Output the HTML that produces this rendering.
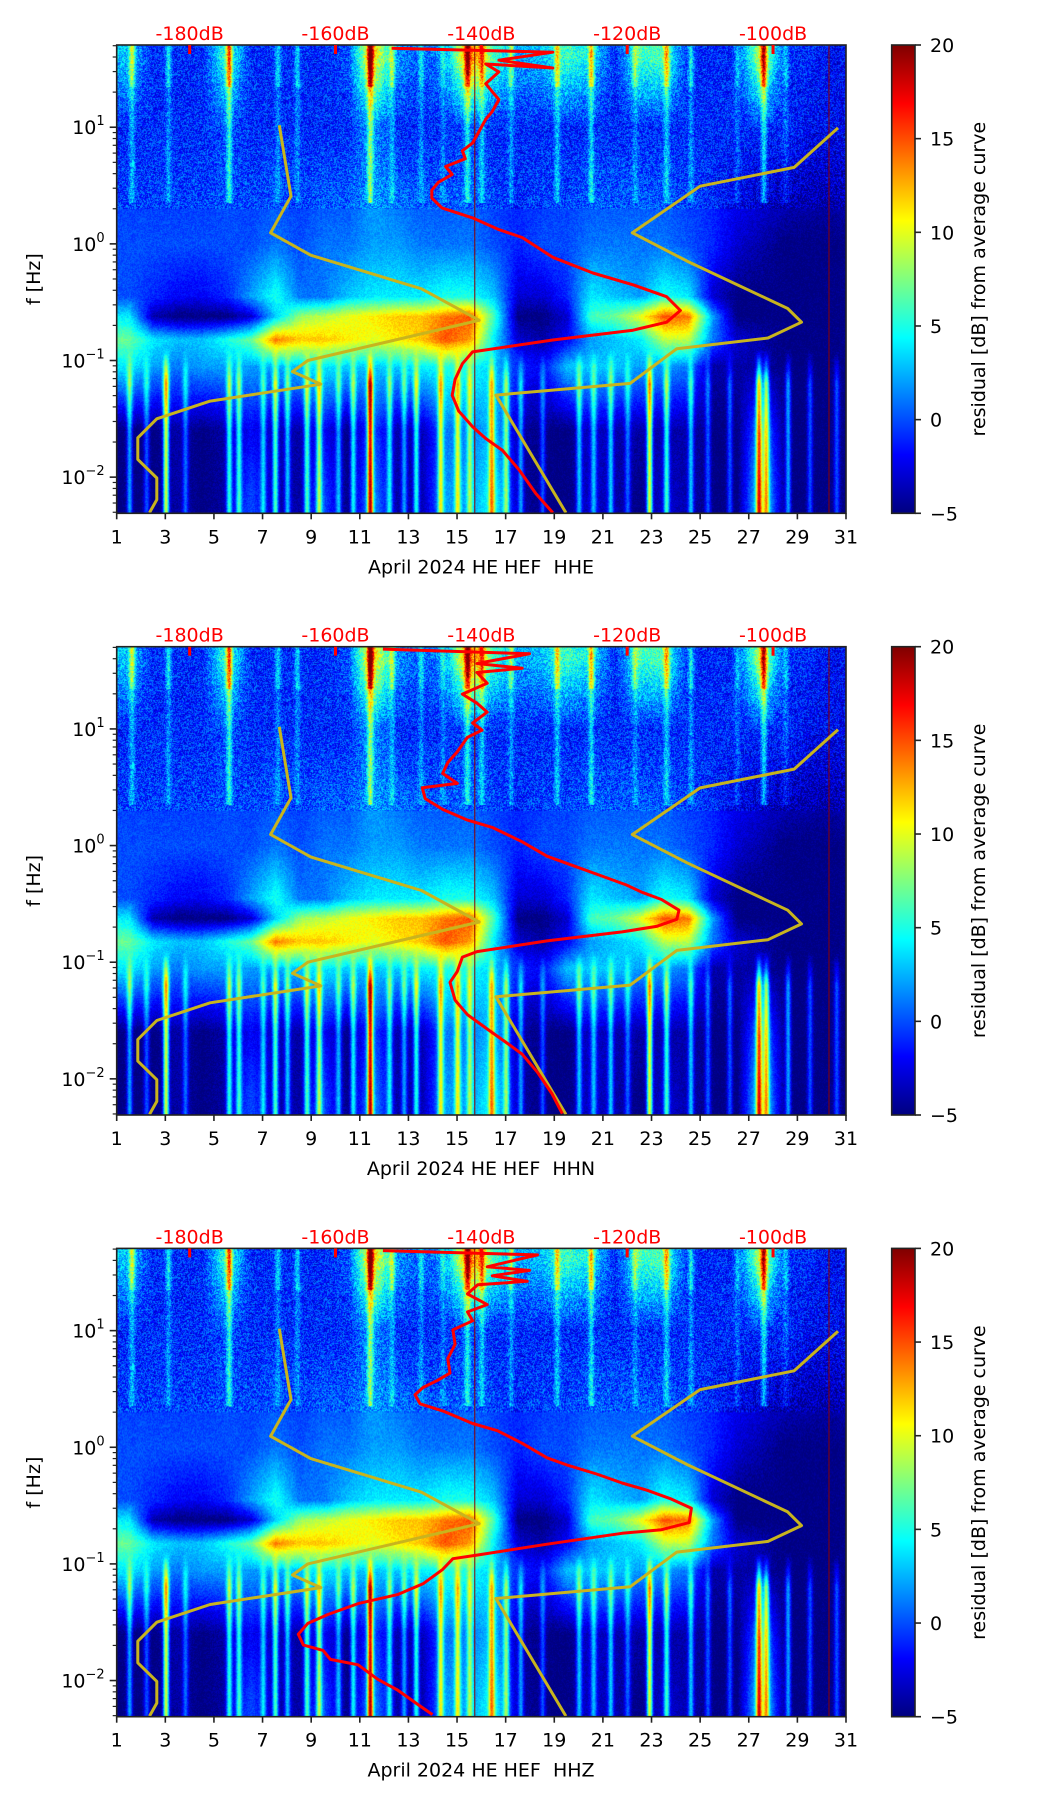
<!DOCTYPE html>
<html><head><meta charset="utf-8">
<style>
html,body{margin:0;padding:0;background:#fff;}
body{width:1052px;height:1806px;position:relative;overflow:hidden;font-family:"DejaVu Sans","Liberation Sans",sans-serif;}
canvas{position:absolute;}
svg{position:absolute;left:0;top:0;}
</style></head>
<body>
<canvas id="c0"></canvas>
<canvas id="c1"></canvas>
<canvas id="c2"></canvas>
<svg id="ov" width="1052" height="1806">
<defs>
<linearGradient id="jet" x1="0" y1="1" x2="0" y2="0">
<stop offset="0" stop-color="#00007f"/><stop offset="0.125" stop-color="#0000ff"/>
<stop offset="0.375" stop-color="#00ffff"/><stop offset="0.625" stop-color="#ffff00"/>
<stop offset="0.875" stop-color="#ff0000"/><stop offset="1" stop-color="#7f0000"/>
</linearGradient>
</defs>
</svg>
<script>
// ---------- data ----------
const channels = ["HHE","HHN","HHZ"];
const dayTicks = [1,3,5,7,9,11,13,15,17,19,21,23,25,27,29,31];
const dbTicks = [-180,-160,-140,-120,-100];
const cbTicks = [-5,0,5,10,15,20];
const yTickExps = [-2,-1,0,1];
const markerDays = [15.73, 30.3];
// heatmap band centres (log10 f) and per-day residuals (day 1..30)
const bandLogF = [1.6,1.0,0.0,-0.45,-0.62,-0.82,-1.05,-1.6,-2.2];
const bandTop    = [3,-1,-1,-1,6,-1,-1,-1,-1,0,12,2,0,2,14,6,2,3,6,4,-1,6,6,-1,-1,-1,10,-1,-1,-2];
const bandHf     = [-1,-1,-1,-1,0,-1,-1,-1,-1,-1,2,-1,-1,-1,0,-1,-1,-1,-1,-1,-1,-1,-1,-1,-1,-1,-1,-1,-2,-2];
const bandCloud  = [0,0,0,0,0,0,1,0,1,1,2,2,1,1,1,0,-1,0,0,1,1,1,1,0,-1,-3,-4,-5,-5,-5];
const bandMid    = [0,-1,-2,-2,-1,2,5,1,1,3,4,4,4,5,5,3,-3,-3,-1,4,3,2,5,4,-3,-5,-5,-5,-5,-5];
const bandMicroU = [4,-4,-5,-5,-5,-3,3,8,9,10,11,12,12,14,15,6,-5,-5,-3,6,7,10,15,14,2,-5,-5,-5,-5,-5];
const bandMicroL = [7,4,3,3,5,7,14,12,12,11,10,11,12,15,13,4,-3,-4,-2,2,3,4,9,9,1,-3,-4,-5,-5,-5];
const bandLowM   = [4,2,1,2,2,2,2,3,4,3,3,3,4,5,5,3,-1,-2,3,3,3,2,2,1,-4,-4,-4,-5,-5,-5];
const bandLow    = [-5,-5,-4,-5,-4,-2,-4,-4,-2,-5,0,-4,-4,1,1,3,-4,-5,-5,-3,-4,-4,-4,-4,-5,-5,2,-5,-5,-5];
const bandLowest = [-5,-5,-4,-5,-4,0,-4,-4,0,-5,2,-4,-4,2,2,5,-4,-5,-5,-3,-4,-5,-3,-4,-5,-5,5,-5,-5,-5];
const hfEventDays = [1.6,3.1,5.6,7.6,8.4,11.4,12.3,13.5,14.4,15.4,16.0,17.2,19.1,20.5,22.3,23.6,24.6,26.5,27.6,28.5];
const hfEventVals = [8,6,12,5,5,14,6,5,4,10,8,6,8,10,5,9,6,4,12,4];
const lowEventDays = [1.5,2.2,3.0,3.8,5.6,6.0,7.0,7.5,8.0,8.8,9.3,10.1,10.7,11.4,12.2,12.8,13.3,14.3,15.0,15.5,16.4,17.0,17.6,18.5,20.0,20.6,21.3,22.0,22.9,23.6,24.6,25.3,26.2,27.4,27.7,28.6,29.5,30.6];
const lowEventVals = [7,5,14,5,9,8,6,10,7,9,10,6,8,18,7,6,9,10,9,7,10,8,6,5,7,6,7,5,14,9,7,5,5,14,11,7,5,5];
// noise models (Peterson): dB and log10 f
const nlnmDb = [-167.7,-166.1,-168.9,-163.4,-148.2,-140.3,-163.8,-165.9,-162.0,-177.2,-184.5,-187.1,-187.1,-184.5,-184.5,-185.5];
const nlnmLogF = [1.017,0.409,0.095,-0.097,-0.385,-0.655,-1.000,-1.095,-1.203,-1.348,-1.500,-1.663,-1.848,-2.007,-2.193,-2.305];
const nhnmDb = [-91.1,-97.1,-110.0,-119.3,-111.8,-98.0,-96.1,-100.7,-113.2,-119.6,-138.0,-128.4];
const nhnmLogF = [0.994,0.656,0.494,0.095,-0.148,-0.554,-0.672,-0.807,-0.899,-1.196,-1.297,-2.305];
// median PSD curves per channel
const redDbHHE = [-152.3,-141.2,-130.2,-137.6,-130.2,-139.4,-137.6,-139.4,-138.5,-137.6,-138.5,-139.4,-140.3,-141.2,-142.6,-142.2,-144.9,-144.0,-145.9,-146.8,-146.8,-145.4,-141.2,-137.6,-134.4,-130.2,-124.7,-119.2,-114.6,-112.7,-114.6,-119.2,-130.2,-141.2,-142.6,-143.6,-144.0,-143.1,-141.2,-139.4,-137.1,-134.8,-132.5,-130.2];
const redLogFHHE = [1.677,1.660,1.643,1.575,1.508,1.542,1.474,1.373,1.305,1.237,1.136,1.068,0.967,0.866,0.798,0.730,0.663,0.595,0.528,0.460,0.392,0.308,0.223,0.122,0.055,-0.115,-0.250,-0.351,-0.453,-0.571,-0.672,-0.740,-0.824,-0.926,-1.027,-1.162,-1.298,-1.433,-1.568,-1.669,-1.771,-1.940,-2.143,-2.305];
const redDbHHN = [-153.5,-133.4,-140.6,-134.4,-140.6,-139.2,-142.6,-140.6,-139.2,-141.2,-139.9,-141.9,-143.3,-144.6,-145.3,-143.3,-148.1,-147.7,-145.3,-141.9,-138.5,-134.4,-131.0,-127.6,-124.2,-120.1,-118.0,-115.3,-112.9,-113.2,-116.0,-120.7,-131.0,-140.6,-142.6,-143.3,-144.3,-143.6,-141.9,-139.2,-136.4,-134.4,-132.3,-130.3,-128.9];
const redLogFHHN = [1.684,1.644,1.561,1.521,1.484,1.391,1.299,1.221,1.144,1.051,0.990,0.928,0.804,0.712,0.619,0.533,0.496,0.403,0.310,0.218,0.156,0.032,-0.091,-0.168,-0.245,-0.338,-0.400,-0.462,-0.554,-0.632,-0.693,-0.740,-0.817,-0.909,-0.956,-1.079,-1.172,-1.326,-1.450,-1.573,-1.697,-1.789,-1.944,-2.129,-2.299];
const redDbHHZ = [-153.5,-132.3,-139.2,-133.4,-138.5,-133.7,-140.5,-141.9,-139.2,-141.9,-141.2,-143.9,-143.6,-144.6,-144.3,-146.0,-148.0,-149.1,-148.4,-145.3,-141.2,-137.8,-134.4,-131.0,-128.3,-124.2,-120.7,-117.3,-113.9,-111.2,-111.5,-115.3,-120.7,-131.0,-140.5,-143.9,-145.3,-148.0,-151.5,-156.9,-161.0,-163.8,-165.1,-164.4,-161.7,-160.7,-156.9,-154.2,-151.5,-148.7,-146.7];
const redLogFHHZ = [1.686,1.649,1.547,1.516,1.470,1.423,1.393,1.315,1.223,1.161,1.084,1.006,0.883,0.759,0.636,0.574,0.512,0.451,0.373,0.312,0.204,0.142,0.034,-0.090,-0.151,-0.229,-0.306,-0.368,-0.445,-0.522,-0.646,-0.707,-0.738,-0.831,-0.924,-0.955,-1.047,-1.171,-1.263,-1.340,-1.433,-1.510,-1.603,-1.696,-1.742,-1.819,-1.865,-1.989,-2.081,-2.205,-2.292];

// ---------- geometry ----------
const L=116.7, W=729.3, H=468.3;
const tops=[45,646.7,1248.4];
const LF0=-2.31, LF1=1.705, DB0=-190, DB1=-90, VMIN=-5, VMAX=20;
const xDay=d=>L+(d-1)/30*W;
const yF=(lf,p)=>tops[p]+(LF1-lf)/(LF1-LF0)*H;
const xDb=db=>L+(db-DB0)/(DB1-DB0)*W;

function jet(t){const c=v=>Math.max(0,Math.min(1,v));return [c(1.5-Math.abs(4*t-3)),c(1.5-Math.abs(4*t-2)),c(1.5-Math.abs(4*t-1))];}
const bands=[bandTop,bandHf,bandCloud,bandMid,bandMicroU,bandMicroL,bandLowM,bandLow,bandLowest];
function dayVal(arr,d){let u=d-1.5;if(u<=0)return arr[0];if(u>=arr.length-1)return arr[arr.length-1];const i=Math.floor(u),f=u-i;return arr[i]*(1-f)+arr[i+1]*f;}
function hash(x,y){let h=(x*374761393+y*668265263)^0x5bd1e995;h=(h^(h>>>13))*1274126177;h=h^(h>>>16);return ((h>>>0)%1000)/500-1;}

function drawHeat(p){
  const cv=document.getElementById('c'+p);
  const w=Math.round(W),h=Math.round(H);
  cv.width=w;cv.height=h;cv.style.left=L+'px';cv.style.top=tops[p]+'px';
  cv.style.width=W+'px';cv.style.height=H+'px';
  const ctx=cv.getContext('2d');const img=ctx.createImageData(w,h);
  for(let x=0;x<w;x++){
    const d=1+x/w*30;
    const col=bands.map(a=>dayVal(a,d));
    let hfe=0,lwe=0;
    for(let k=0;k<hfEventDays.length;k++){const z=(d-hfEventDays[k])/0.12;hfe+=hfEventVals[k]*Math.exp(-z*z);}
    for(let k=0;k<lowEventDays.length;k++){const z=(d-lowEventDays[k])/0.12;lwe+=lowEventVals[k]*Math.exp(-z*z);}
    for(let y=0;y<h;y++){
      const lf=LF1-y/h*(LF1-LF0);
      let v;
      if(lf>=bandLogF[0])v=col[0];
      else if(lf<=bandLogF[8])v=col[8];
      else{for(let i=0;i<8;i++){if(lf<=bandLogF[i]&&lf>=bandLogF[i+1]){const f=(bandLogF[i]-lf)/(bandLogF[i]-bandLogF[i+1]);v=col[i]*(1-f)+col[i+1]*f;break;}}}
      if(lf>0.35)v+=hfe*(lf>1.35?0.9:0.45);
      if(lf<-0.9)v+=lwe*Math.min(1,(-0.9-lf)/0.3);
      v+=hash(x,y)*(lf>0.3?2.5:0.8);
      const t=Math.max(0,Math.min(1,(v-VMIN)/(VMAX-VMIN)));
      const c=jet(t);const o=(y*w+x)*4;
      img.data[o]=c[0]*255;img.data[o+1]=c[1]*255;img.data[o+2]=c[2]*255;img.data[o+3]=255;
    }
  }
  ctx.putImageData(img,0,0);
}

const NS='http://www.w3.org/2000/svg';
const ov=document.getElementById('ov');
function mk(tag,attrs,parent,text){const e=document.createElementNS(NS,tag);for(const k in attrs)e.setAttribute(k,attrs[k]);if(text!==undefined)e.textContent=text;(parent||ov).appendChild(e);return e;}
const TXT='fill:#000;font-family:"DejaVu Sans","Liberation Sans",sans-serif;';

function drawPanel(p){
  drawHeat(p);
  const g=mk('g',{});
  
  
  const T=tops[p],B=T+H;
  markerDays.forEach(md=>{const l=mk('line',{x1:xDay(md),x2:xDay(md),y1:T,y2:B,stroke:'#8b0000','stroke-width':1},g);
    
    });
  const cp=mk('clipPath',{id:'clip'+p},g);mk('rect',{x:L,y:T,width:W,height:H},cp);
  const lg=mk('g',{'clip-path':'url(#clip'+p+')'},g);
  
  
  const pl2=(db,lf,color,name)=>{const pts=db.map((v,i)=>xDb(v).toFixed(1)+','+yF(lf[i],p).toFixed(1)).join(' ');
    const e=mk('polyline',{points:pts,fill:'none',stroke:color,'stroke-width':3,'stroke-linejoin':'round'},lg);
    
    };
  pl2(nlnmDb,nlnmLogF,'#c8b41e','nlnm-curve');
  pl2(nhnmDb,nhnmLogF,'#c8b41e','nhnm-curve');
  const rd=[redDbHHE,redDbHHN,redDbHHZ][p], rl=[redLogFHHE,redLogFHHN,redLogFHHZ][p];
  pl2(rd,rl,'#ff0000','median-psd-curve');
  const fr=mk('rect',{x:L,y:T,width:W,height:H,fill:'none',stroke:'#222','stroke-width':1.6},g);
  
  
  dayTicks.forEach(d=>{const x=xDay(d);
    mk('line',{x1:x,x2:x,y1:B,y2:B+6,stroke:'#222','stroke-width':1.6},g);
    const t=mk('text',{x:x,y:B+30,'text-anchor':'middle','font-size':19,style:TXT},g,String(d));
    
    });
  const xl=mk('text',{x:481,y:B+60,'text-anchor':'middle','font-size':19,style:TXT},g,'April 2024 HE HEF \u00a0'+channels[p]);
  
  
  yTickExps.forEach(e=>{const y=yF(e,p);
    mk('line',{x1:L-7,x2:L,y1:y,y2:y,stroke:'#222','stroke-width':1.6},g);
    const t=mk('text',{x:L-12,y:y+7,'text-anchor':'end','font-size':19,style:TXT},g);
    
    
    mk('tspan',{},t,'10');mk('tspan',{dy:-9,'font-size':13},t,e<0?'\u2212'+(-e):String(e));
  });
  for(let e=-3;e<=1;e++)for(let k=2;k<=9;k++){const lf=e+Math.log10(k);if(lf<LF0||lf>LF1)continue;const y=yF(lf,p);
    mk('line',{x1:L-4,x2:L,y1:y,y2:y,stroke:'#222','stroke-width':1.2},g);}
  const yl=mk('text',{x:0,y:0,'text-anchor':'middle','font-size':19,style:TXT,transform:'translate(40,'+(T+H/2)+') rotate(-90)'},g,'f [Hz]');
  
  
  dbTicks.forEach(db=>{const x=xDb(db);
    mk('line',{x1:x,x2:x,y1:T,y2:T+9,stroke:'#ff0000','stroke-width':3},g);
    const t=mk('text',{x:x,y:T-5,'text-anchor':'middle','font-size':19,fill:'#ff0000',style:'font-family:"DejaVu Sans","Liberation Sans",sans-serif;'},g,db+'dB');
    
    });
  const cbx=891.7,cbw=23.3;
  const cb=mk('rect',{x:cbx,y:T,width:cbw,height:H,fill:'url(#jet)',stroke:'#222','stroke-width':1.6},g);
  
  
  cbTicks.forEach(v=>{const y=T+H-(v-VMIN)/(VMAX-VMIN)*H;
    mk('line',{x1:cbx+cbw,x2:cbx+cbw+6,y1:y,y2:y,stroke:'#222','stroke-width':1.6},g);
    const t=mk('text',{x:cbx+cbw+15,y:y+7,'font-size':19,style:TXT},g,v<0?'\u2212'+(-v):String(v));
    
    });
  const cl=mk('text',{x:0,y:0,'text-anchor':'middle','font-size':19,style:TXT,transform:'translate(985,'+(T+H/2)+') rotate(-90)'},g,'residual [dB] from average curve');
  
  
}
[0,1,2].forEach(drawPanel);
</script>
</body></html>
